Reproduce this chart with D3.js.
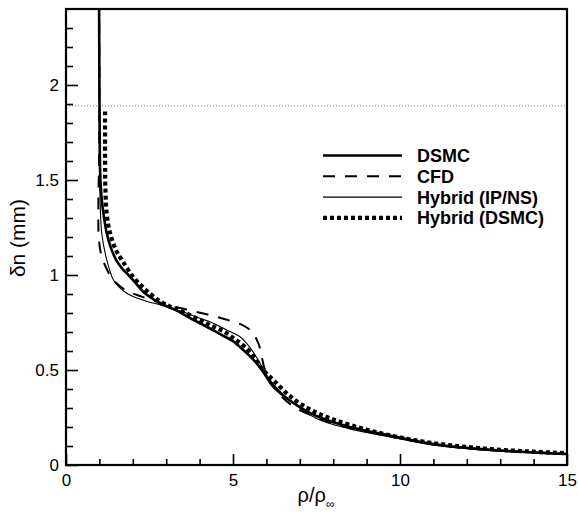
<!DOCTYPE html>
<html>
<head>
<meta charset="utf-8">
<script src="https://cdn.jsdelivr.net/npm/d3@7"></script>
<style>
  body { margin: 0; background: #fff; }
  svg text { font-family: "Liberation Sans", Arial, Helvetica, sans-serif; fill: #000; }
  .legend-label { font-weight: bold; font-size: 18px; }
</style>
</head>
<body>
<svg id="chart"></svg>
<script>
// series: density ratio (x) vs. normal distance (y, mm)
const dsmcX = [0.99, 1.0, 1.01, 1.03, 1.07, 1.14, 1.22, 1.35, 1.5, 1.7, 1.87, 2.1, 2.31, 2.55, 2.81, 3.05, 3.31, 3.7, 4.01, 4.4, 4.71, 5.0, 5.31, 5.55, 5.71, 5.91, 6.21, 6.71, 7.5, 8.5, 9.7, 11.0, 12.0, 13.0, 14.0, 15.0];
const dsmcY = [2.45, 2.0, 1.7, 1.5, 1.4, 1.3, 1.22, 1.14, 1.08, 1.03, 1.0, 0.955, 0.912, 0.88, 0.851, 0.832, 0.814, 0.775, 0.746, 0.71, 0.68, 0.652, 0.605, 0.565, 0.535, 0.488, 0.412, 0.338, 0.258, 0.2, 0.155, 0.11, 0.09, 0.076, 0.066, 0.058];

const cfdX = [0.99, 1.0, 0.99, 0.97, 0.98, 1.05, 1.17, 1.35, 1.62, 1.9, 2.27, 2.81, 3.2, 3.61, 4.31, 5.01, 5.3, 5.51, 5.61, 5.71, 5.8, 5.86, 5.96, 6.15, 6.4, 6.8, 7.5, 8.5, 9.7, 11.0, 12.0, 13.0, 14.0, 15.0];
const cfdY = [2.45, 2.0, 1.6, 1.4, 1.2, 1.11, 1.05, 0.99, 0.94, 0.91, 0.886, 0.855, 0.836, 0.818, 0.789, 0.754, 0.735, 0.711, 0.693, 0.66, 0.62, 0.57, 0.5, 0.43, 0.37, 0.31, 0.25, 0.195, 0.152, 0.108, 0.088, 0.075, 0.066, 0.058];

const ipnsX = [0.99, 1.0, 1.0, 1.02, 1.07, 1.22, 1.42, 1.6, 1.82, 2.1, 2.41, 2.8, 3.21, 3.6, 4.01, 4.31, 4.81, 5.21, 5.41, 5.62, 5.81, 6.11, 6.61, 7.5, 8.5, 9.7, 11.0, 12.0, 13.0, 14.0, 15.0];
const ipnsY = [2.45, 2.0, 1.6, 1.4, 1.22, 1.08, 0.974, 0.935, 0.904, 0.88, 0.862, 0.843, 0.822, 0.8, 0.772, 0.754, 0.711, 0.675, 0.64, 0.59, 0.535, 0.447, 0.355, 0.245, 0.19, 0.148, 0.105, 0.086, 0.073, 0.064, 0.056];

const hybX = [1.17, 1.17, 1.18, 1.22, 1.32, 1.5, 1.67, 2.01, 2.4, 2.81, 3.1, 3.51, 4.0, 4.31, 4.7, 5.01, 5.4, 5.7, 5.9, 6.21, 6.71, 7.31, 8.0, 9.0, 10.0, 11.0, 12.0, 13.0, 14.0, 15.0];
const hybY = [1.86, 1.6, 1.45, 1.32, 1.22, 1.13, 1.08, 0.99, 0.92, 0.862, 0.835, 0.805, 0.765, 0.737, 0.705, 0.668, 0.615, 0.55, 0.5, 0.447, 0.362, 0.292, 0.24, 0.186, 0.145, 0.115, 0.095, 0.08, 0.07, 0.062];

const seriesNames = ["DSMC", "CFD", "Hybrid (IP/NS)", "Hybrid (DSMC)"];
const interfaceY = 1.89;

const xMajorTicks = [0, 5, 10, 15];
const xMinorTicks = [1, 2, 3, 4, 6, 7, 8, 9, 11, 12, 13, 14];
const yMajorTicks = [0, 0.5, 1, 1.5, 2];
const yMinorTicks = [0.1, 0.2, 0.3, 0.4, 0.6, 0.7, 0.8, 0.9, 1.1, 1.2, 1.3, 1.4, 1.6, 1.7, 1.8, 1.9, 2.1, 2.2, 2.3];

class ProfileChart {

  constructor(_config) {
    this.config = {
      parentElement: _config.parentElement,
      containerWidth: 578,
      containerHeight: 516,
      margin: { top: 9, right: 11, bottom: 51, left: 66 },
    };
    this.initVis();
  }

  initVis() {
    let vis = this;

    vis.svg = d3
        .select(vis.config.parentElement)
        .attr("width", vis.config.containerWidth)
        .attr("height", vis.config.containerHeight);

    vis.innerWidth =
        vis.config.containerWidth - vis.config.margin.left - vis.config.margin.right;
    vis.innerHeight =
        vis.config.containerHeight - vis.config.margin.top - vis.config.margin.bottom;

    vis.chart = vis.svg
        .append("g")
        .attr("transform", `translate(${vis.config.margin.left},${vis.config.margin.top})`);

    vis.xScale = d3.scaleLinear().domain([0, 15]).range([0, vis.innerWidth]);
    vis.yScale = d3.scaleLinear().domain([0, 2.4]).range([vis.innerHeight, 0]);

    // clip the curves to the frame
    vis.chart.append("clipPath")
        .attr("id", "plot-clip")
        .append("rect")
        .attr("width", vis.innerWidth)
        .attr("height", vis.innerHeight);

    // axis titles
    vis.svg.append("text")
        .attr("transform", `translate(25, 238) rotate(-90)`)
        .attr("text-anchor", "middle")
        .style("font-size", "21px")
        .text("δn (mm)");

    const xt = vis.svg.append("text")
        .attr("x", 316)
        .attr("y", 502)
        .attr("text-anchor", "middle")
        .style("font-size", "20px");
    xt.append("tspan").text("ρ/ρ");
    xt.append("tspan").attr("dy", 6).style("font-size", "12px").text("∞");
  }

  updateVis() {
    let vis = this;
    vis.data = [
      { name: seriesNames[0], pts: d3.zip(dsmcX, dsmcY), width: 2.6, dash: null },
      { name: seriesNames[1], pts: d3.zip(cfdX, cfdY), width: 2, dash: "12,10" },
      { name: seriesNames[2], pts: d3.zip(ipnsX, ipnsY), width: 1.1, dash: null },
      { name: seriesNames[3], pts: d3.zip(hybX, hybY), width: 4.2, dash: "4,3" },
    ];

    vis.line = d3.line()
        .x(d => vis.xScale(d[0]))
        .y(d => vis.yScale(d[1]))
        .curve(d3.curveCatmullRom.alpha(0.5));

    vis.renderVis();
  }

  renderVis() {
    let vis = this;

    // dotted reference line
    vis.chart.append("line")
        .attr("x1", 0)
        .attr("x2", vis.innerWidth)
        .attr("y1", vis.yScale(interfaceY))
        .attr("y2", vis.yScale(interfaceY))
        .attr("stroke", "#777")
        .attr("stroke-width", 1)
        .attr("stroke-dasharray", "1,2");

    vis.chart.append("g")
        .attr("clip-path", "url(#plot-clip)")
        .selectAll("path")
        .data(vis.data)
        .join("path")
        .attr("d", d => vis.line(d.pts))
        .attr("fill", "none")
        .attr("stroke", "#000")
        .attr("stroke-width", d => d.width)
        .attr("stroke-dasharray", d => d.dash);

    // axes, ticks pointing inward
    const xMinor = vis.chart.append("g")
        .attr("transform", `translate(0,${vis.innerHeight})`)
        .call(d3.axisBottom(vis.xScale).tickValues(xMinorTicks).tickSize(-6).tickFormat(""));
    const xMajor = vis.chart.append("g")
        .attr("transform", `translate(0,${vis.innerHeight})`)
        .call(d3.axisBottom(vis.xScale).tickValues(xMajorTicks).tickSize(-11).tickPadding(9).tickFormat(d3.format("d")));
    const yMinor = vis.chart.append("g")
        .call(d3.axisLeft(vis.yScale).tickValues(yMinorTicks).tickSize(-7).tickFormat(""));
    const yMajor = vis.chart.append("g")
        .call(d3.axisLeft(vis.yScale).tickValues(yMajorTicks).tickSize(-12).tickPadding(7).tickFormat(d => d));

    [xMinor, xMajor, yMinor, yMajor].forEach(a => {
      a.select(".domain").remove();
      a.selectAll("line").attr("stroke", "#000").attr("stroke-width", 1.6);
      a.selectAll("text").style("font-size", "17px").attr("fill", "#000");
    });

    // frame
    vis.chart.append("rect")
        .attr("width", vis.innerWidth)
        .attr("height", vis.innerHeight)
        .attr("fill", "none")
        .attr("stroke", "#000")
        .attr("stroke-width", 2.2);

    // legend
    const legend = vis.svg.append("g").attr("transform", "translate(323,155.5)");
    const rows = legend.selectAll("g")
        .data(vis.data)
        .join("g")
        .attr("transform", (d, i) => `translate(0,${i * 20.8})`);
    rows.append("line")
        .attr("x1", 0)
        .attr("x2", 79)
        .attr("stroke", "#000")
        .attr("stroke-width", d => d.width)
        .attr("stroke-dasharray", d => d.dash);
    rows.append("text")
        .attr("class", "legend-label")
        .attr("x", 94)
        .attr("dy", "0.36em")
        .text(d => d.name);
  }
}

let chart = new ProfileChart({ parentElement: "#chart" });
chart.updateVis();
</script>
</body>
</html>
